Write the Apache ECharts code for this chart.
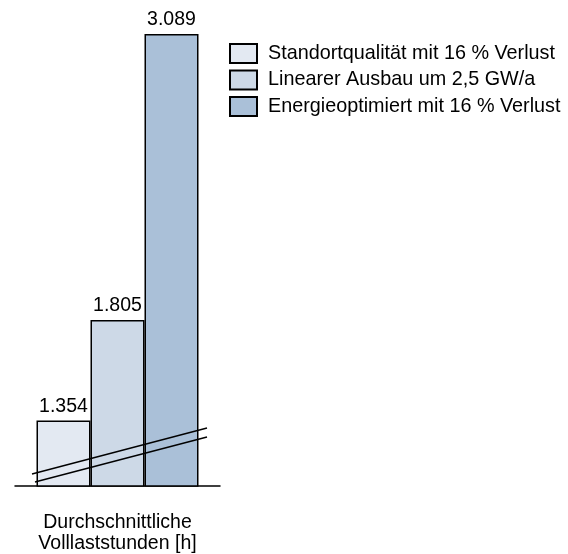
<!DOCTYPE html>
<html>
<head>
<meta charset="utf-8">
<script src="https://cdn.jsdelivr.net/npm/echarts@6/dist/echarts.min.js"></script>
<style>
  html, body { margin: 0; padding: 0; background: #fff; }
  #chart { width: 568px; height: 554px; }
</style>
</head>
<body>
<div id="chart"></div>
<script>
let categories = ["Durchschnittliche\nVolllaststunden [h]"]
let seriesNames = [
    "Standortqualität mit 16 % Verlust",
    "Linearer Ausbau um 2,5 GW/a",
    "Energieoptimiert mit 16 % Verlust"
]
let seriesValues = [1354, 1805, 3089]
let seriesColors = ["#e3e9f2", "#cdd9e7", "#aac0d8"]

function formatDe(v) {
    return String(v).replace(/\B(?=(\d{3})+(?!\d))/g, ".")
}

let chartDom = document.getElementById("chart")
let myChart = echarts.init(chartDom)

let series = seriesNames.map((name, i) => ({
    name: name,
    type: "bar",
    data: [seriesValues[i]],
    barWidth: 54,
    barGap: "0%",
    itemStyle: {
        color: seriesColors[i],
        borderColor: "#000",
        borderWidth: 1.5
    },
    label: {
        show: true,
        position: "top",
        distance: 4,
        color: "#000",
        fontSize: 19.5,
        fontFamily: "Liberation Sans",
        formatter: p => formatDe(p.value)
    }
}))

let option = {
    animation: false,
    textStyle: { fontFamily: "Liberation Sans" },
    grid: { left: 15, right: 348, top: 34, bottom: 68 },
    legend: {
        orient: "vertical",
        left: 224,
        top: 38,
        itemWidth: 27,
        itemHeight: 19,
        itemGap: 5.5,
        icon: "rect",
        textStyle: {
            fontSize: 19.8,
            lineHeight: 20,
            color: "#000",
            fontFamily: "Liberation Sans",
            padding: [0, 0, 0, 6]
        },
        data: seriesNames
    },
    xAxis: {
        type: "category",
        data: categories,
        axisLine: { lineStyle: { color: "#000", width: 1.5 } },
        axisTick: { show: false },
        axisLabel: {
            margin: 26,
            fontSize: 19.5,
            lineHeight: 21,
            color: "#000",
            fontFamily: "Liberation Sans"
        }
    },
    yAxis: {
        type: "value",
        min: 1060,
        max: 3089,
        show: false,
        splitLine: { show: false }
    },
    series: series
}

myChart.setOption(option)

// axis break marks (two parallel diagonal lines)
let breakLines = [
    [[32, 474], [207, 428]],
    [[35, 482], [207, 437]]
]
myChart.setOption({
    graphic: breakLines.map(l => ({
        type: "line",
        z: 100,
        shape: { x1: l[0][0], y1: l[0][1], x2: l[1][0], y2: l[1][1] },
        style: { stroke: "#000", lineWidth: 1.3 }
    }))
})
</script>
</body>
</html>
